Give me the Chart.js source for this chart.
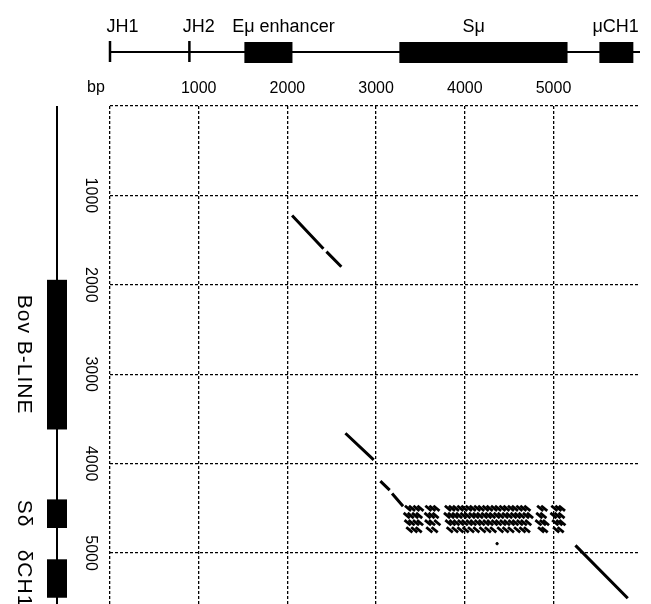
<!DOCTYPE html>
<html lang="en">
<head>
    <meta charset="UTF-8">
    <title>Dot plot - Sμ / Sδ</title>
    <script src="https://cdn.jsdelivr.net/npm/chart.js"></script>
    <style>
        body {
            margin: 0;
            padding: 0;
            background: #fff;
        }
        #wrap {
            width: 651px;
            height: 604px;
        }
    </style>
</head>
<body>
    <div id="wrap">
        <canvas id="dotPlot" width="651" height="604"></canvas>
    </div>

    <script>
        // --- data (bp) ---
        const xTickValues = [0, 1000, 2000, 3000, 4000, 5000];
        const yTickValues = [0, 1000, 2000, 3000, 4000, 5000];

        // top map: mu locus
        const topLabels = ['JH1', 'JH2', 'Eμ enhancer', 'Sμ', 'μCH1'];
        const topLabelAt = [140, 1000, 1955, 4100, 5700];
        const topTicks = [0, 895];               // JH1, JH2
        const topBoxStart = [1515, 3262, 5517];  // Eμ, Sμ, μCH1
        const topBoxEnd = [2057, 5158, 5900];
        const topLength = 5975;

        // left map: delta locus
        const leftLabels = ['Bov B-LINE', 'Sδ', 'δCH1'];
        const leftBoxStart = [1944, 4400, 5070];
        const leftBoxEnd = [3618, 4720, 5500];
        const leftLength = 5570;

        // matching diagonals [x1, y1, x2, y2]
        const diagSegments = [
            [2053, 1225, 2406, 1596],
            [2440, 1629, 2608, 1798],
            [2654, 3660, 2973, 3959],
            [3048, 4195, 3153, 4296],
            [3180, 4334, 3304, 4476],
            [5247, 4914, 5837, 5506]
        ];

        // switch-repeat block (rows of short hits)
        const blockRowY = [4500, 4580, 4660, 4740];
        const blockRowX = [
            [3360, 3405, 3455, 3500, 3590, 3635, 3680, 3810, 3855, 3900, 3950, 3995, 4045, 4090, 4140, 4185,
             4235, 4280, 4330, 4375, 4425, 4470, 4520, 4565, 4615, 4660, 4705, 4850, 4895, 5010, 5055, 5095],
            [3345, 3390, 3440, 3485, 3580, 3625, 3670, 3800, 3845, 3890, 3935, 3985, 4030, 4080, 4125, 4170,
             4220, 4265, 4310, 4360, 4405, 4455, 4500, 4550, 4595, 4640, 4690, 4735, 4840, 4885, 5000, 5045, 5090],
            [3355, 3400, 3450, 3495, 3585, 3630, 3690, 3815, 3860, 3905, 3955, 4000, 4050, 4095, 4145, 4190,
             4240, 4285, 4335, 4380, 4430, 4475, 4525, 4570, 4620, 4665, 4715, 4830, 4880, 4915, 5020, 5065, 5100],
            [3375, 3430, 3480, 3600, 3660, 3830, 3890, 3950, 4010, 4070, 4130, 4200, 4260, 4320, 4400, 4460,
             4520, 4590, 4650, 4700, 4860, 4900, 5030, 5080]
        ];
        const strayDots = [[4364, 4895]];

        const FONT = "'Liberation Sans', Arial, sans-serif";

        // build datasets
        const diagData = [];
        diagSegments.forEach(s => {
            diagData.push({ x: s[0], y: s[1] });
            diagData.push({ x: s[2], y: s[3] });
            diagData.push({ x: s[2], y: null });
        });

        const blockData = [];
        blockRowY.forEach((y, i) => {
            blockRowX[i].forEach(x => blockData.push({ x: x, y: y }));
        });

        // gene maps + rotated labels drawn against the chart scales
        const geneMaps = {
            id: 'geneMaps',
            afterDraw(chart) {
                const c = chart.ctx;
                const xs = chart.scales.x;
                const ys = chart.scales.y;
                c.save();
                c.fillStyle = '#000';
                c.strokeStyle = '#000';

                // top map
                const mapY = 52;
                c.lineWidth = 2;
                c.beginPath();
                c.moveTo(xs.getPixelForValue(0), mapY);
                c.lineTo(xs.getPixelForValue(topLength), mapY);
                c.stroke();
                c.lineWidth = 2.5;
                topTicks.forEach(v => {
                    const px = xs.getPixelForValue(v);
                    c.beginPath();
                    c.moveTo(px, mapY - 11);
                    c.lineTo(px, mapY + 10);
                    c.stroke();
                });
                topBoxStart.forEach((v, i) => {
                    const a = xs.getPixelForValue(v);
                    const b = xs.getPixelForValue(topBoxEnd[i]);
                    c.fillRect(a, mapY - 10, b - a, 21);
                });
                c.font = '18px ' + FONT;
                c.textAlign = 'center';
                c.textBaseline = 'alphabetic';
                topLabels.forEach((t, i) => {
                    c.fillText(t, xs.getPixelForValue(topLabelAt[i]), 32);
                });

                // "bp" unit
                c.font = '16px ' + FONT;
                c.textBaseline = 'middle';
                c.fillText('bp', 96, 88);

                // left map
                const mapX = 57;
                c.lineWidth = 2;
                c.beginPath();
                c.moveTo(mapX, ys.getPixelForValue(0));
                c.lineTo(mapX, ys.getPixelForValue(leftLength));
                c.stroke();
                leftBoxStart.forEach((v, i) => {
                    const a = ys.getPixelForValue(v);
                    const b = ys.getPixelForValue(leftBoxEnd[i]);
                    c.fillRect(mapX - 10, a, 20, b - a);
                });

                // rotated labels (read top to bottom)
                c.font = '21px ' + FONT;
                c.letterSpacing = '1px';
                c.textAlign = 'center';
                c.textBaseline = 'middle';
                leftLabels.forEach((t, i) => {
                    const mid = ys.getPixelForValue((leftBoxStart[i] + leftBoxEnd[i]) / 2);
                    c.save();
                    c.translate(24, mid);
                    c.rotate(Math.PI / 2);
                    c.fillText(t, 0, 0);
                    c.restore();
                });
                c.letterSpacing = '0px';

                // y tick labels
                c.font = '16px ' + FONT;
                ys.ticks.forEach(t => {
                    if (t.value === 0) return;
                    c.save();
                    c.translate(90, ys.getPixelForValue(t.value));
                    c.rotate(Math.PI / 2);
                    c.fillText(String(t.value), 0, 0);
                    c.restore();
                });
                c.restore();
            }
        };

        const gridOpts = { color: '#000', lineWidth: 1.3, drawTicks: false };
        const borderOpts = { display: false, dash: [3, 2] };

        new Chart(document.getElementById('dotPlot'), {
            type: 'scatter',
            data: {
                datasets: [
                    {
                        label: 'diagonals',
                        data: diagData,
                        showLine: true,
                        spanGaps: false,
                        borderColor: '#000',
                        borderWidth: 3,
                        pointRadius: 0
                    },
                    {
                        label: 'repeats',
                        data: blockData,
                        pointStyle: 'line',
                        pointRotation: 40,
                        pointRadius: 4,
                        pointBorderWidth: 2.8,
                        pointBorderColor: '#000'
                    },
                    {
                        label: 'stray',
                        data: strayDots.map(d => ({ x: d[0], y: d[1] })),
                        pointRadius: 1.2,
                        pointBackgroundColor: '#000',
                        pointBorderColor: '#000'
                    }
                ]
            },
            options: {
                responsive: false,
                animation: false,
                layout: {
                    autoPadding: false,
                    padding: { top: 72, left: 110, right: 11, bottom: 0 }
                },
                plugins: {
                    legend: { display: false },
                    tooltip: { enabled: false }
                },
                scales: {
                    x: {
                        type: 'linear',
                        position: 'top',
                        min: 0,
                        max: topLength,
                        afterBuildTicks: s => { s.ticks = xTickValues.map(v => ({ value: v })); },
                        afterFit: s => { s.height = 34; },
                        grid: gridOpts,
                        border: borderOpts,
                        ticks: {
                            padding: 8,
                            maxRotation: 0,
                            color: '#000',
                            font: { family: FONT, size: 16 },
                            callback: v => (v === 0 ? '' : String(v))
                        }
                    },
                    y: {
                        type: 'linear',
                        reverse: true,
                        min: 0,
                        max: leftLength,
                        afterBuildTicks: s => { s.ticks = yTickValues.map(v => ({ value: v })); },
                        afterFit: s => { s.width = 0; },
                        grid: gridOpts,
                        border: borderOpts,
                        ticks: { display: false }
                    }
                }
            },
            plugins: [geneMaps]
        });
    </script>
</body>
</html>
